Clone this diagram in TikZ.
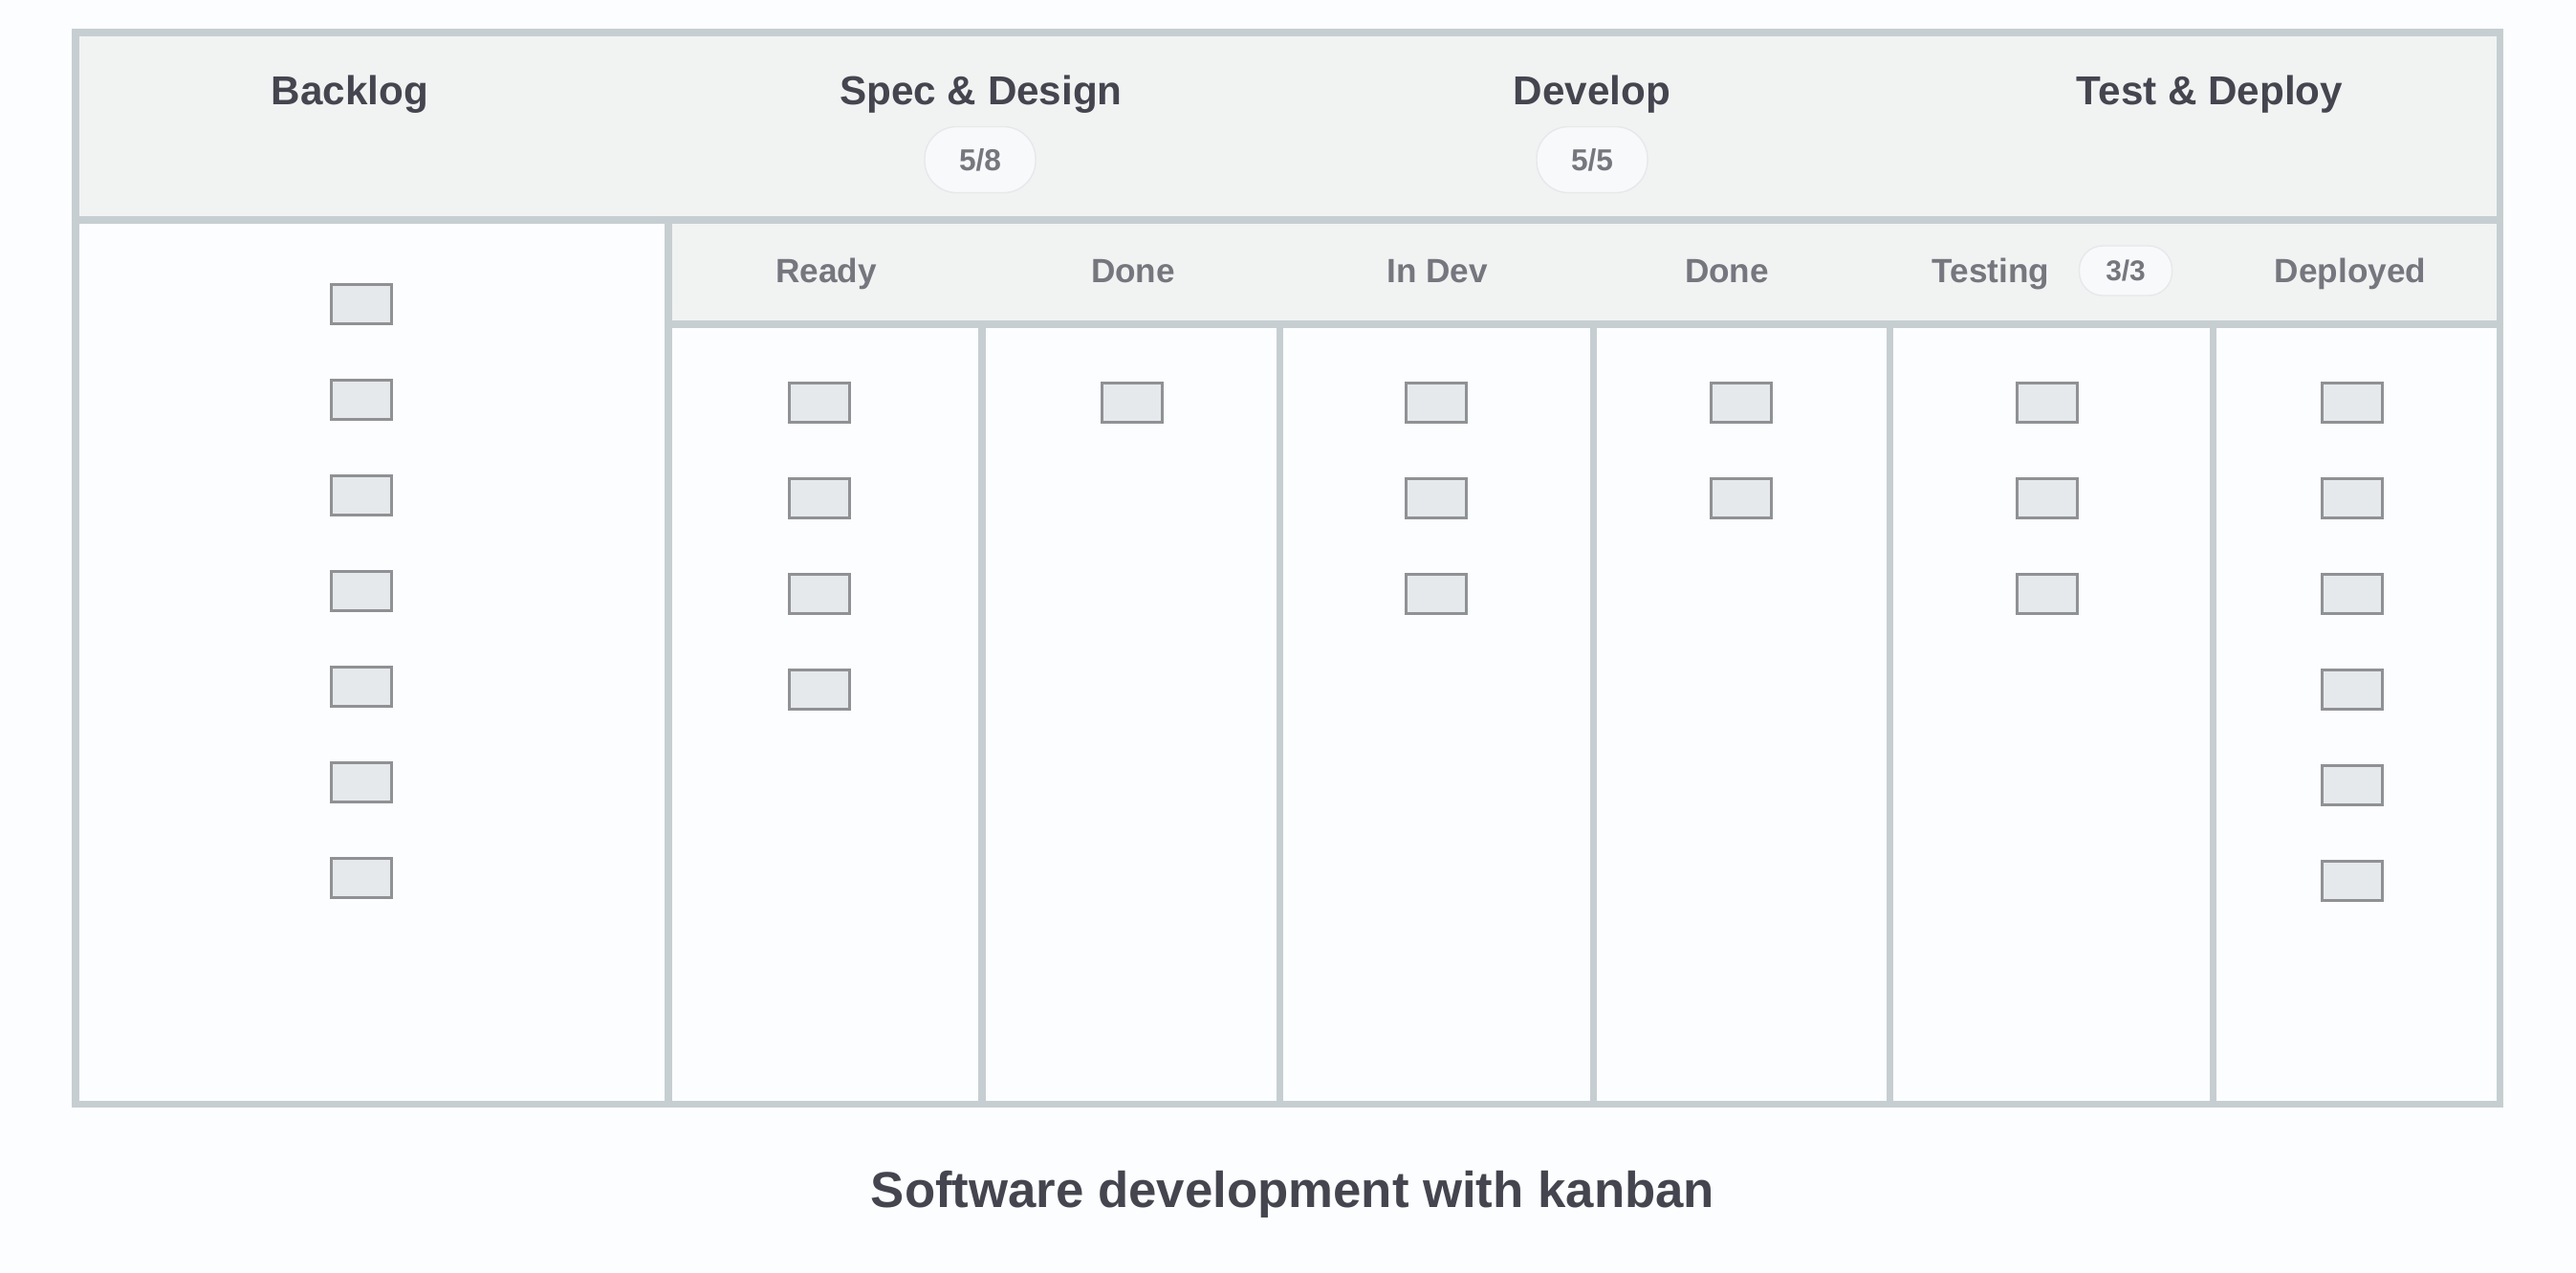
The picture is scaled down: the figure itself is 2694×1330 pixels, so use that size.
\documentclass[tikz,border=0pt]{standalone}
\usepackage{fontspec}
\setmainfont{Liberation Sans}
\usepackage{xcolor}

\definecolor{pagebg}{HTML}{FCFDFE}
\definecolor{gridline}{HTML}{C6CED1}
\definecolor{headfill}{HTML}{F1F3F3}
\definecolor{cardfill}{HTML}{E6E9EB}
\definecolor{cardline}{HTML}{8F9194}
\definecolor{darktext}{HTML}{45454F}
\definecolor{greytext}{HTML}{76767E}
\definecolor{pillfill}{HTML}{F8F9FA}
\definecolor{pillline}{HTML}{E6E8EA}

\begin{document}
\begin{tikzpicture}[x=0.01cm, y=-0.01cm,
    stage/.style={anchor=base, font=\bfseries\fontsize{12}{14}\selectfont, text=darktext},
    substage/.style={anchor=base, font=\bfseries\fontsize{10}{12}\selectfont, text=greytext},
    limit/.style={draw=pillline, line width=0.4pt, fill=pillfill, rounded corners=9.5pt, inner sep=0pt, font=\bfseries\fontsize{9}{11}\selectfont, text=greytext},
    card/.style={draw=cardline, line width=0.6pt, fill=cardfill, minimum width=0.63cm, minimum height=0.41cm, inner sep=0pt},
    grid/.style={draw=gridline, line width=2pt}]

    % page and header bands
    \fill[pagebg] (0,0) rectangle (2694,1330);
    \fill[headfill] (79,34) rectangle (2614,230);
    \fill[headfill] (699,230) rectangle (2614,339);

    % board lines
    \draw[grid] (79,34) rectangle (2614,1154);
    \draw[grid] (79,230) -- (2614,230);
    \draw[grid] (699,339) -- (2614,339);
    \draw[grid] (699,230) -- (699,1154);
    \foreach \gx in {1027,1338,1666,1976,2314}
        \draw[grid] (\gx,339) -- (\gx,1154);

    % stage headers
    \node[stage] (backlog) at (366,109) {Backlog};
    \node[stage] (spec) at (1026,109) {Spec \& Design};
    \node[stage] (develop) at (1665,109) {Develop};
    \node[stage] (deploy) at (2311,109) {Test \& Deploy};
    \node[limit, minimum width=1.16cm, minimum height=0.69cm] (speclimit) at (1025,167) {5/8};
    \node[limit, minimum width=1.16cm, minimum height=0.69cm] (devlimit) at (1665,167) {5/5};

    % sub columns
    \node[substage] (ready) at (864,295) {Ready};
    \node[substage] (specdone) at (1185,295) {Done};
    \node[substage] (indev) at (1503,295) {In Dev};
    \node[substage] (devdone) at (1806,295) {Done};
    \node[substage] (testing) at (2082,295) {Testing};
    \node[limit, rounded corners=7pt, minimum width=0.97cm, minimum height=0.52cm, font=\bfseries\fontsize{8.5}{10}\selectfont] (testlimit) at (2223,283) {3/3};
    \node[substage] (deployed) at (2458,295) {Deployed};

    % cards
    \foreach \i in {1,...,7}
        \node[card] (backlog-\i) at (378,{318+100*(\i-1)}) {};
    \foreach \cx/\num/\col in {857/4/ready, 1184/1/specdone, 1502/3/indev, 1821/2/devdone, 2141/3/testing, 2460/6/deployed}
        \foreach \i in {1,...,\num}
            \node[card] (\col-\i) at (\cx,{421+100*(\i-1)}) {};

    \node[anchor=base, font=\bfseries\fontsize{15}{18}\selectfont, text=darktext] (title) at (1352,1262) {Software development with kanban};
\end{tikzpicture}
\end{document}
